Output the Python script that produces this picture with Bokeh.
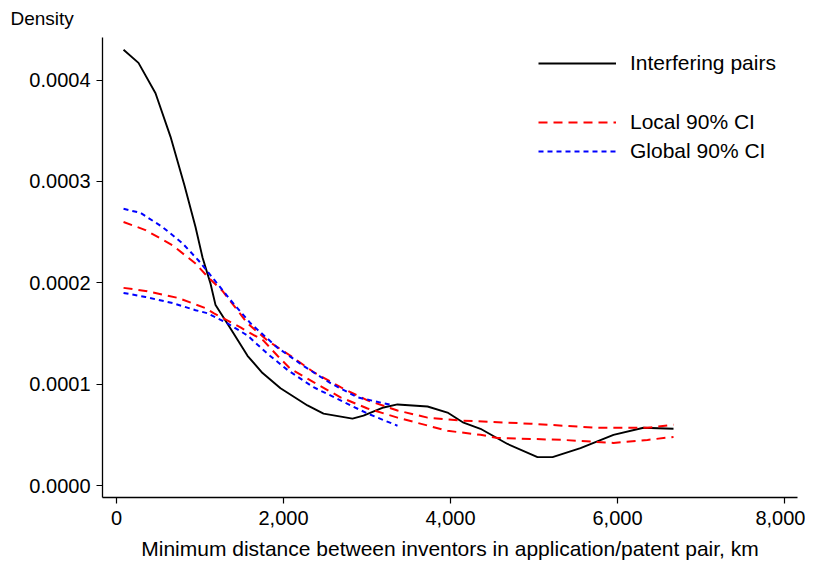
from bokeh.plotting import figure
from bokeh.models import (Range1d, FixedTicker, NumeralTickFormatter, Legend, LegendItem)
from bokeh.embed import file_html
from bokeh.resources import INLINE

# Interfering pairs (kernel density), x in km, y in 1e-4
obs_km = [84, 263, 467, 647, 814, 946, 1030, 1126, 1186, 1365, 1569, 1749, 1964, 2287,
          2479, 2826, 2958, 3198, 3365, 3725, 3964, 4156, 4359, 4683, 5042, 5222, 5557,
          5952, 6311, 6671]
obs_d = [4.30, 4.17, 3.87, 3.44, 2.96, 2.55, 2.25, 1.99, 1.78, 1.55, 1.28, 1.11, 0.96, 0.79,
         0.71, 0.66, 0.69, 0.77, 0.80, 0.78, 0.72, 0.62, 0.56, 0.41, 0.28, 0.28, 0.37,
         0.50, 0.57, 0.56]

# Local 90% CI
loc_up_km = [84, 347, 671, 946, 1102, 1269, 1401, 1569, 1808, 2084, 2359, 2683, 3006,
             3365, 3725, 4156, 4958, 5760, 6359, 6671]
loc_up_d = [2.60, 2.52, 2.37, 2.19, 2.05, 1.92, 1.78, 1.60, 1.43, 1.28, 1.12, 0.97, 0.84,
            0.74, 0.67, 0.64, 0.61, 0.57, 0.57, 0.60]
loc_lo_km = [84, 347, 742, 1066, 1162, 1485, 1760, 1928, 2084, 2359, 2683, 3006, 3365,
             3964, 4359, 4563, 5353, 5952, 6359, 6671]
loc_lo_d = [1.95, 1.92, 1.85, 1.75, 1.70, 1.56, 1.43, 1.28, 1.15, 1.02, 0.87, 0.76, 0.67,
            0.54, 0.50, 0.47, 0.45, 0.42, 0.45, 0.48]

# Global 90% CI
glo_up_km = [84, 287, 551, 790, 982, 1150, 1365, 1605, 1928, 2240, 2563, 2886, 3317]
glo_up_d = [2.73, 2.69, 2.55, 2.39, 2.22, 2.05, 1.83, 1.60, 1.36, 1.18, 1.01, 0.87, 0.79]
glo_lo_km = [84, 347, 671, 946, 1090, 1329, 1569, 1808, 2048, 2359, 2683, 3006, 3365]
glo_lo_d = [1.90, 1.86, 1.80, 1.73, 1.70, 1.60, 1.48, 1.30, 1.14, 0.97, 0.84, 0.71, 0.59]

x_ticks = [0, 2000, 4000, 6000, 8000]
y_ticks = [0.0, 0.0001, 0.0002, 0.0003, 0.0004]

scale = 1e-4
FONT = "Liberation Sans"

p = figure(width=805, height=565, output_backend="svg", toolbar_location=None,
           x_range=Range1d(-168, 8156), y_range=Range1d(-0.0000118, 0.000442),
           min_border_left=102, min_border_right=8, min_border_top=37, min_border_bottom=68)
p.outline_line_color = None
p.xgrid.visible = False
p.ygrid.visible = False

p.title.text = "Density"
p.title.align = "left"
p.title.vertical_align = "top"
p.title.offset = -92
p.title.text_font = FONT
p.title.text_font_size = "19px"
p.title.text_font_style = "normal"
p.title.text_color = "black"
p.title.standoff = 13

r_obs = p.line(obs_km, [v * scale for v in obs_d], line_color="black", line_width=1.9)
r_lu = p.line(loc_up_km, [v * scale for v in loc_up_d], line_color="red", line_width=2,
              line_dash="9 6")
r_ll = p.line(loc_lo_km, [v * scale for v in loc_lo_d], line_color="red", line_width=2,
              line_dash="9 6")
r_gu = p.line(glo_up_km, [v * scale for v in glo_up_d], line_color="blue", line_width=2,
              line_dash="5 4")
r_gl = p.line(glo_lo_km, [v * scale for v in glo_lo_d], line_color="blue", line_width=2,
              line_dash="5 4")

for ax in (p.xaxis[0], p.yaxis[0]):
    ax.axis_line_width = 1.3
    ax.axis_line_color = "black"
    ax.major_tick_line_color = "black"
    ax.major_tick_line_width = 1.2
    ax.major_tick_out = 6
    ax.major_tick_in = 0
    ax.minor_tick_line_color = None
    ax.major_label_text_font = FONT
    ax.major_label_text_font_size = "20px"
    ax.major_label_text_color = "black"
    ax.axis_label_text_font = FONT
    ax.axis_label_text_font_size = "21px"
    ax.axis_label_text_font_style = "normal"
    ax.axis_label_text_color = "black"

p.xaxis.ticker = FixedTicker(ticks=x_ticks)
p.yaxis.ticker = FixedTicker(ticks=y_ticks)
p.xaxis.formatter = NumeralTickFormatter(format="0,0")
p.yaxis.formatter = NumeralTickFormatter(format="0.0000")
p.xaxis.axis_label = "Minimum distance between inventors in application/patent pair, km"
p.xaxis.major_label_standoff = 7
p.xaxis.axis_label_standoff = 9
p.yaxis.major_label_standoff = 6


def make_legend(items, loc):
    lg = Legend(items=items, location=loc, orientation="vertical")
    lg.border_line_color = None
    lg.background_fill_alpha = 0
    lg.padding = 0
    lg.margin = 0
    lg.spacing = 5
    lg.glyph_width = 78
    lg.glyph_height = 24
    lg.label_height = 24
    lg.label_standoff = 14
    lg.label_text_font = FONT
    lg.label_text_font_size = "21px"
    lg.label_text_color = "black"
    return lg


lg1 = make_legend([LegendItem(label="Interfering pairs", renderers=[r_obs])], (436, 422))
lg2 = make_legend([LegendItem(label="Local 90% CI", renderers=[r_lu]),
                   LegendItem(label="Global 90% CI", renderers=[r_gu])], (436, 334))
p.add_layout(lg1, "center")
p.add_layout(lg2, "center")

open("out.html", "w").write(file_html(p, INLINE))
